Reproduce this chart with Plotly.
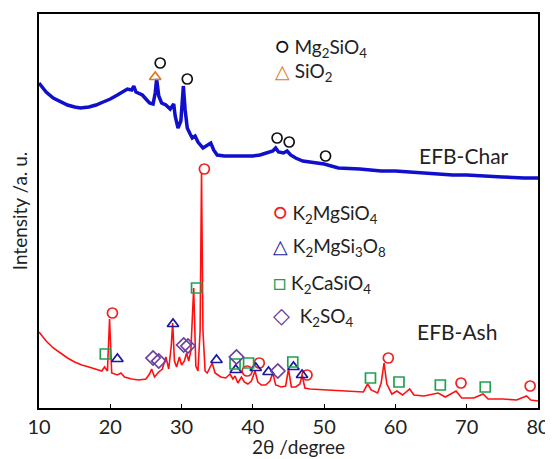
import plotly.graph_objects as go

# ---------------- data ----------------
# EFB-Char pattern (2theta, intensity a.u.)
char_2theta = [10, 11, 12, 13, 14, 15, 15.8, 17, 18, 19, 20, 21, 22, 22.4, 23, 23.3, 23.6, 24, 24.5, 25,
               25.5, 26.0, 26.3, 26.5, 26.8, 27.2, 27.8, 28.4, 28.7, 28.9, 29.1, 29.5, 29.9, 30.1, 30.25,
               30.5, 30.8, 31.2, 31.5, 31.9, 32.3, 33, 33.8, 34.1, 34.5, 35, 36, 37, 38, 39, 40, 41, 42,
               42.8, 43.2, 43.6, 44.3, 44.8, 45.3, 46, 47, 48, 49, 50, 51, 52, 55, 58, 60, 62, 65, 68,
               70, 72, 75, 78, 80]
char_int = [325, 316, 310, 306, 303, 301, 300, 301, 303, 306, 309, 313, 317, 319, 318, 322, 316, 315, 313, 309,
            305, 304, 315, 329, 312, 305, 303, 299, 302, 304, 292, 280, 287, 305, 322,
            298, 280, 274, 270, 272, 266, 260, 263, 265, 258, 253, 252, 252, 252, 252, 252, 253, 255,
            257, 260, 256, 255, 257, 253, 250, 247, 246, 245, 244, 242, 240, 239, 237, 237, 236, 234, 233,
            233, 232, 231, 230, 230]

# EFB-Ash pattern (2theta, intensity a.u.)
ash_2theta = [10, 11, 12, 13, 14, 15, 16, 17, 18, 18.8, 19.2, 19.6, 19.9, 20.2, 21, 21.5, 22, 23, 24, 25,
              25.5, 25.8, 26.2, 26.8, 27.3, 27.8, 28.2, 28.55, 28.75, 29.0, 29.3, 29.7, 30.0, 30.4, 30.7,
              31.0, 31.3, 31.7, 32.0, 32.3, 32.6, 32.8, 33.0, 33.3, 33.6, 34.0, 34.3, 34.7, 35.5, 36.2,
              36.8, 37.2, 37.5, 37.9, 38.4, 38.8, 39.3, 39.8, 40.3, 40.7, 41.2, 41.8, 42.4, 42.8, 43.2,
              44, 44.6, 45.0, 45.4, 46, 46.6, 46.9, 47.3, 48, 50, 52, 54, 55.5, 56.1, 56.6, 57.5, 58.0,
              58.4, 58.8, 59.5, 60.2, 61, 62, 62.6, 64, 66, 67, 68.5, 69.3, 71, 72.3, 73, 75, 77, 78.4,
              79, 80]
ash_int = [76, 67, 60, 55, 50, 46, 43, 41, 39, 37, 41, 37, 89, 35, 33, 35, 31, 29, 28, 29,
           34, 39, 31, 36, 39, 51, 39, 62, 85, 47, 41, 51, 43, 47, 55,
           47, 57, 120, 42, 37, 77, 235, 77, 37, 35, 41, 45, 35, 31, 30,
           34, 29, 32, 25, 31, 26, 24, 27, 37, 26, 23, 23, 27, 35, 23,
           21, 22, 39, 21, 21, 24, 33, 20, 19, 18, 17, 16, 16, 24, 18, 15, 25,
           45, 24, 14, 17, 13, 19, 13, 12, 15, 11, 17, 10, 10, 14, 9, 9, 8, 12,
           8, 7]

# phase markers (2theta, intensity a.u.)
mg2sio4_x = [27.0, 30.8, 43.4, 45.1, 50.2]
mg2sio4_y = [345, 329, 270, 266, 252]
sio2_x = [26.3]
sio2_y = [331]

k2mgsio4_x = [20.3, 33.2, 39.2, 40.9, 47.6, 59.0, 69.2, 78.9]
k2mgsio4_y = [95, 239, 37, 45, 33, 50, 25, 22]
k2mgsi3o8_x = [21.0, 28.8, 34.9, 37.6, 40.4, 42.2, 45.7, 46.9]
k2mgsi3o8_y = [49, 84, 48, 38, 40, 36, 41, 33]
k2casio4_x = [19.3, 32.1, 37.5, 39.4, 45.6, 56.5, 60.5, 66.3, 72.6]
k2casio4_y = [54, 120, 44, 45, 46, 30, 26, 23, 21]
k2so4_x = [26.0, 26.8, 30.3, 30.9, 37.7, 43.5]
k2so4_y = [50, 47, 63, 62, 51, 37]

x_ticks = [10, 20, 30, 40, 50, 60, 70, 80]

# ---------------- figure ----------------
FONT = "Lato"
TXT = "#222222"
fig = go.Figure()

fig.add_trace(go.Scatter(x=char_2theta, y=char_int, mode="lines",
                         line=dict(color="#1010cc", width=3.5), showlegend=False))
fig.add_trace(go.Scatter(x=ash_2theta, y=ash_int, mode="lines",
                         line=dict(color="#ff1010", width=1.6), showlegend=False))

def markers(x, y, symbol, color, size=10):
    fig.add_trace(go.Scatter(x=x, y=y, mode="markers", showlegend=False,
                             marker=dict(symbol=symbol, size=size, color=color,
                                         line=dict(color=color, width=1.7))))

markers(mg2sio4_x, mg2sio4_y, "circle-open", "#111111")
markers(sio2_x, sio2_y, "triangle-up-open", "#e07a22")
markers(k2mgsio4_x, k2mgsio4_y, "circle-open", "#ee2222")
markers(k2mgsi3o8_x, k2mgsi3o8_y, "triangle-up-open", "#1a1aa0")
markers(k2casio4_x, k2casio4_y, "square-open", "#22a050")
markers(k2so4_x, k2so4_y, "diamond-open", "#6a3fa0", size=11)

# page body has an 8px default margin: figure pixel = viewport pixel - 8
OFF = 8
W, H = 553 - OFF, 459 - OFF
# plot area in viewport pixels: x 39..538, y 14..408
X0, X1, Y0, Y1 = 39 - OFF, 538 - OFF, 14 - OFF, 408 - OFF

def px(xv):
    return (xv - OFF - X0) / (X1 - X0)

def py(yv):
    return (Y1 - (yv - OFF)) / (Y1 - Y0)

annos = []
def label(xv, yv, text, size=19, anchor="left", yanchor="middle"):
    annos.append(dict(x=px(xv), y=py(yv), xref="paper", yref="paper", text=text,
                      showarrow=False, xanchor=anchor, yanchor=yanchor, borderpad=0,
                      font=dict(family=FONT, size=size, color=TXT)))

def sym(ch, color, size):
    return f"<span style='color:{color};font-size:{size}px'>{ch}</span>"

label(274, 47, sym("○", "#111111", 22) + " Mg<sub>2</sub>SiO<sub>4</sub>")
label(274, 72, sym("△", "#e07a22", 19) + " SiO<sub>2</sub>")
label(272, 212, sym("○", "#ee2222", 22) + " K<sub>2</sub>MgSiO<sub>4</sub>")
label(272, 247, sym("△", "#1a1aa0", 19) + " K<sub>2</sub>MgSi<sub>3</sub>O<sub>8</sub>")
label(272, 282, sym("□", "#22a050", 22) + " K<sub>2</sub>CaSiO<sub>4</sub>")
label(272, 315, sym("◇", "#6a3fa0", 22) + "  K<sub>2</sub>SO<sub>4</sub>")
label(418, 155, "EFB-Char", size=21)
label(416, 331, "EFB-Ash", size=21)
label(298, 459, "2θ /degree", size=19, anchor="center", yanchor="bottom")

fig.update_layout(
    width=W, height=H,
    margin=dict(l=X0, r=W - X1, t=Y0, b=H - Y1),
    paper_bgcolor="white", plot_bgcolor="white",
    annotations=annos,
    font=dict(family=FONT, size=20, color=TXT),
    xaxis=dict(range=[10, 80], tickvals=x_ticks, ticks="inside", ticklen=4, tickwidth=1.2,
               tickcolor="black", showline=True, linecolor="black", linewidth=1.5, mirror=True,
               showgrid=False, zeroline=False, automargin=False,
               tickfont=dict(family=FONT, size=20, color=TXT)),
    yaxis=dict(range=[0, 394], showticklabels=False, ticks="", showline=True, linecolor="black",
               linewidth=1.5, mirror=True, showgrid=False, zeroline=False, automargin=False,
               title=dict(text="Intensity /a. u.", standoff=8, font=dict(family=FONT, size=19, color=TXT))),
)

fig.write_html("out.html")
